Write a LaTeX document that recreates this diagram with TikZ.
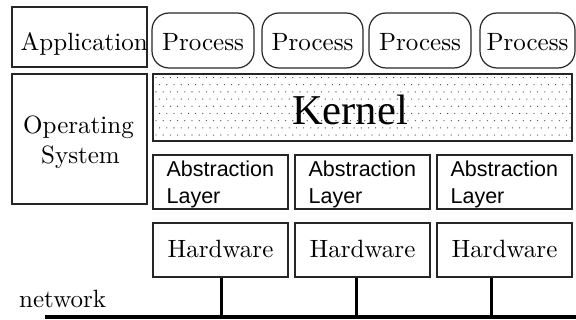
\documentclass[tikz,border=0pt]{standalone}
\usepackage{fontspec}
\setmainfont{lmroman10-regular}[Extension=.otf]
\newfontfamily\kernelfont{LiberationSerif-Regular}[Extension=.ttf]
\newfontfamily\layerfont{Liberation Sans}
\begin{document}
\begin{tikzpicture}[x=1pt,y=-1pt,
  frame/.style={draw=black!85, line width=1.2pt, inner sep=0pt},
  serif/.style={font=\fontsize{25}{30}\selectfont, inner sep=0pt},
  sans/.style={font=\layerfont\fontsize{21.5}{27}\selectfont, inner sep=0pt},
  proc/.style={frame, rounded corners=17pt, minimum height=55pt},
  unit/.style={frame, minimum width=135pt, minimum height=54pt},
  wire/.style={line width=3pt, black}]
\useasboundingbox (0,0) rectangle (576,320);

% left column: application and operating system
\node[frame, minimum width=135pt, minimum height=60pt] (app) at (79.5,37) {};
\node[serif, anchor=base west] (appt) at (20.5,51) {Application};
\node[frame, minimum width=135pt, minimum height=130pt] (os) at (79.5,139) {};
\node[serif, anchor=base] (ost1) at (78.5,134) {Operating};
\node[serif, anchor=base] (ost2) at (80.5,164) {System};

% processes
\node[proc, minimum width=102pt] (p1) at (203,40.5) {};
\node[proc, minimum width=101pt] (p2) at (312.5,40.5) {};
\node[proc, minimum width=102pt] (p3) at (420,40.5) {};
\node[proc, minimum width=95pt] (p4) at (527.5,40.5) {};
\foreach \p in {p1,p2,p3,p4}
  \node[serif, anchor=base] (\p t) at (\p.center |- 0,51) {Process};

% kernel with dotted fill
\node[frame, minimum width=419pt, minimum height=67pt] (kernel) at (362.5,107.5) {};
\begin{scope}
  \clip ([xshift=1pt,yshift=-1pt]kernel.north west) rectangle ([xshift=-1pt,yshift=1pt]kernel.south east);
  \foreach \r in {0,...,9} {
    \pgfmathsetmacro\yy{77.5+7.2*\r}
    \pgfmathsetmacro\off{mod(\r,2)*3.6}
    \foreach \c in {0,...,58}
      \fill[black!70] (156+\off+7.2*\c,\yy) circle (0.65pt);
  }
\end{scope}
\node[inner sep=0pt, anchor=base, font=\kernelfont\fontsize{42.5}{50}\selectfont] (kt) at (350,125) {Kernel};

% abstraction layers and hardware
\foreach \i/\x in {1/220.5,2/362.5,3/504.5} {
  \node[unit] (a\i) at (\x,182) {};
  \node[sans, anchor=base west] (a\i t1) at ([xshift=14pt]a\i.west |- 0,177) {Abstraction};
  \node[sans, anchor=base west] (a\i t2) at ([xshift=14pt]a\i.west |- 0,204) {Layer};
  \node[unit] (h\i) at (\x,250) {};
  \node[serif, anchor=base] (h\i t) at (\x,258) {Hardware};
}

% network bus
\node[serif, anchor=base west] (net) at (19,308) {network};
\coordinate (netL) at (45,317);
\coordinate (netR) at (577,317);
\draw[wire, line width=3.5pt] (netL) -- (netR);
\coordinate (tap1) at (221,317);
\coordinate (tap2) at (356,317);
\coordinate (tap3) at (491,317);
\foreach \i in {1,2,3}
  \draw[wire] (h\i.south -| tap\i) -- (tap\i);
\end{tikzpicture}
\end{document}
